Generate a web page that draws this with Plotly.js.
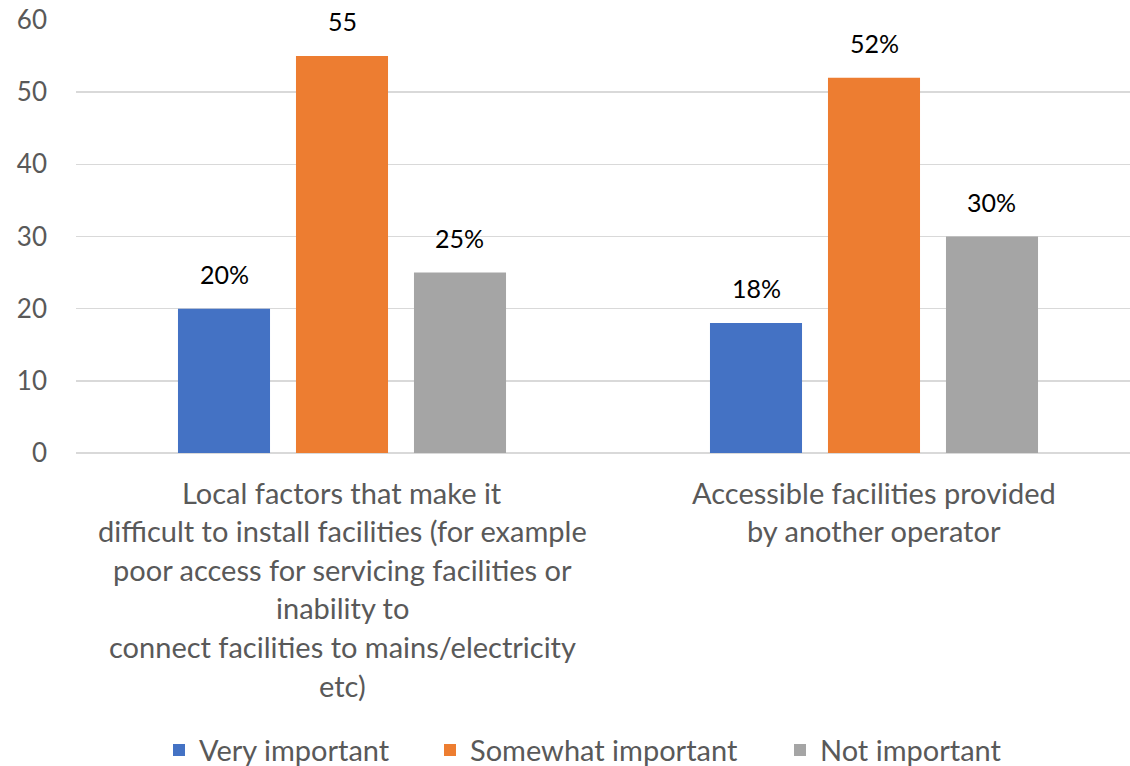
<!DOCTYPE html>
<html>
<head>
<meta charset="utf-8">
<script src="https://cdn.plot.ly/plotly-3.0.1.min.js"></script>
<style>html,body{margin:0;padding:0;background:#fff;}#chart{width:1130px;height:766px;}</style>
</head>
<body>
<div id="chart"></div>
<script>
// ---- data ----
var categories = ["Local factors", "Accessible facilities"];
var categoryLabelLines = [
  ["Local factors that make it", "difficult to install facilities (for example", "poor access for servicing facilities or", "inability to", "connect facilities to mains/electricity", "etc)"],
  ["Accessible facilities provided", "by another operator"]
];
var seriesNames = ["Very important", "Somewhat important", "Not important"];
var veryImportant = [20, 18];
var somewhatImportant = [55, 52];
var notImportant = [25, 30];
var veryLabels = ["20%", "18%"];
var somewhatLabels = ["55", "52%"];
var notLabels = ["25%", "30%"];
var yTicks = [0, 10, 20, 30, 40, 50, 60];

// ---- styling / layout ----
var colors = ["#4472C4", "#ED7D31", "#A5A5A5"];
var W = 1130, H = 766;
var margin = {l: 76, r: 0, t: 20, b: 313, autoexpand: false};
var bargap = 0.3346, bargroupgap = 0.22;
var plotW = W - margin.l - margin.r;
var xRange = [-0.5, -0.5 + plotW / 532];
var pxPerCat = plotW / (xRange[1] - xRange[0]);
var slotPx = pxPerCat * (1 - bargap) / 3;
var fontFam = "Lato, 'Open Sans', sans-serif";
var legendLeftPx = [159, 430, 780];
var legendIds = ["legend", "legend2", "legend3"];

var seriesVals = [veryImportant, somewhatImportant, notImportant];
var seriesLabels = [veryLabels, somewhatLabels, notLabels];

var traces = seriesVals.map(function (vals, i) {
  return {
    type: "bar",
    name: seriesNames[i],
    x: categories,
    y: vals,
    marker: {color: colors[i]},
    legend: legendIds[i],
    hoverinfo: "skip"
  };
});

var annotations = [];
seriesVals.forEach(function (vals, s) {
  vals.forEach(function (v, c) {
    annotations.push({
      xref: "x", yref: "y",
      x: categories[c], y: v,
      xshift: (s - 1) * slotPx,
      yshift: 18,
      yanchor: "bottom", xanchor: "center",
      showarrow: false,
      text: seriesLabels[s][c],
      font: {family: fontFam, size: 25, color: "#000000"}
    });
  });
});
categoryLabelLines.forEach(function (lines, c) {
  lines.forEach(function (line, i) {
    annotations.push({
      xref: "x", yref: "paper",
      x: categories[c], y: 0,
      yanchor: "middle", xanchor: "center",
      yshift: -(39 + i * 38.6),
      showarrow: false,
      text: line,
      font: {family: fontFam, size: 29, color: "#595959"}
    });
  });
});

var layout = {
  width: W, height: H,
  margin: margin,
  paper_bgcolor: "#ffffff",
  plot_bgcolor: "#ffffff",
  barmode: "group",
  bargap: bargap,
  bargroupgap: bargroupgap,
  showlegend: true,
  xaxis: {
    type: "category",
    range: xRange,
    showticklabels: false,
    showgrid: false,
    zeroline: false,
    showline: false,
    ticks: ""
  },
  yaxis: {
    range: [0, 60],
    tickvals: yTicks,
    ticktext: yTicks.map(String),
    showgrid: true,
    gridcolor: "#d9d9d9",
    gridwidth: 1.5,
    zeroline: true,
    zerolinecolor: "#d9d9d9",
    zerolinewidth: 1.5,
    showline: false,
    ticks: "",
    ticklabelstandoff: 28,
    tickfont: {family: fontFam, size: 26, color: "#595959"}
  },
  annotations: annotations
};
legendIds.forEach(function (id, i) {
  layout[id] = {
    orientation: "h",
    x: (legendLeftPx[i] - margin.l) / plotW, xanchor: "left",
    y: -0.686, yanchor: "middle",
    bgcolor: "rgba(0,0,0,0)",
    font: {family: fontFam, size: 29, color: "#595959"}
  };
});

Plotly.newPlot("chart", traces, layout, {displayModeBar: false, staticPlot: true});
</script>
</body>
</html>
